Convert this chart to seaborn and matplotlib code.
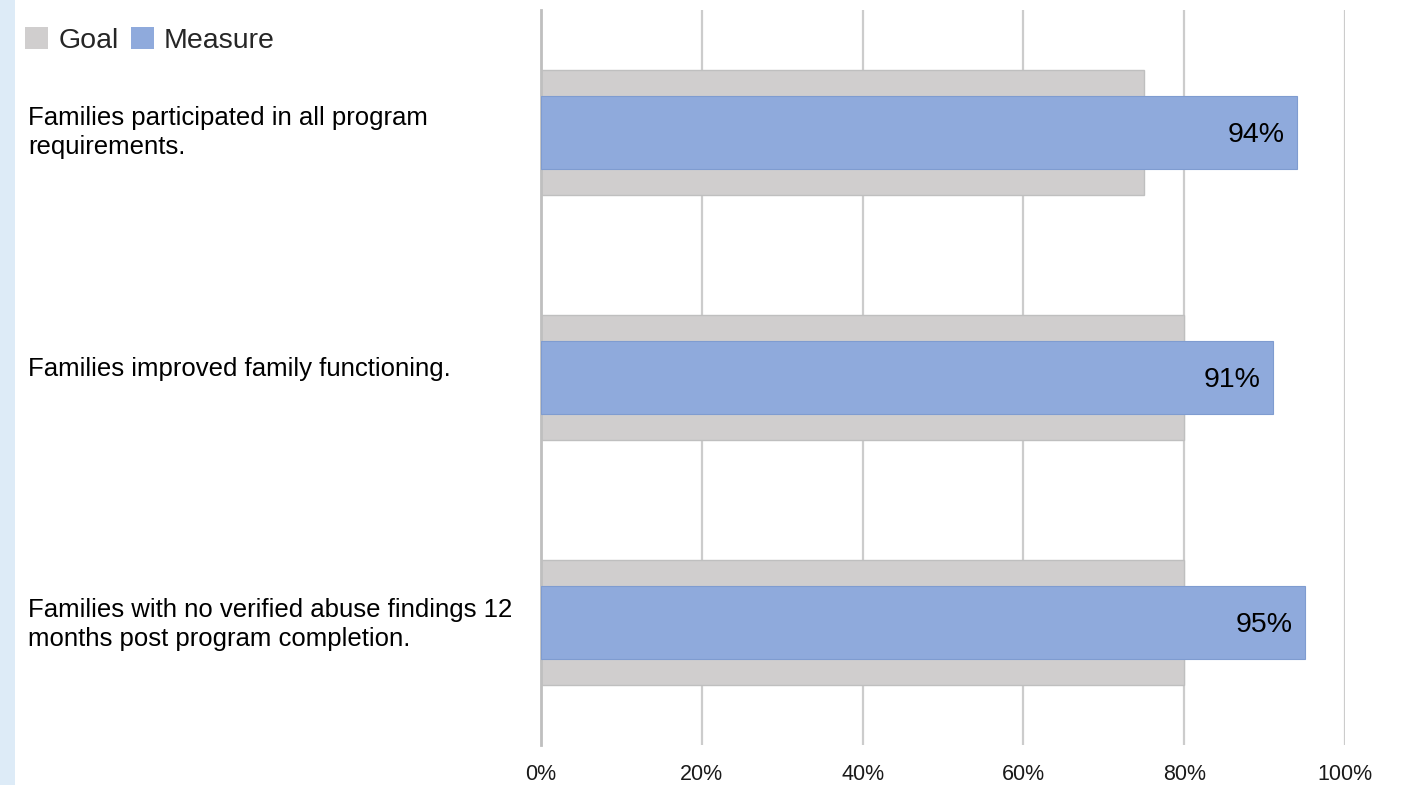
import matplotlib
matplotlib.use("Agg")
import matplotlib.pyplot as plt
from matplotlib.patches import Patch, Rectangle
from matplotlib.ticker import FuncFormatter
import matplotlib.transforms as mtransforms
import seaborn as sns
import pandas as pd

# Performance measures against program goals
categories = [
    "Families participated in all program\nrequirements.",
    "Families improved family functioning.",
    "Families with no verified abuse findings 12\nmonths post program completion.",
]
goal = [75, 80, 80]
measure = [94, 91, 95]
x_ticks = [0, 20, 40, 60, 80, 100]

GOAL_COLOR = "#D0CECE"
MEASURE_COLOR = "#8FAADC"
GRID_COLOR = "#CCCCCC"

sns.set_theme(style="white")
plt.rcParams["font.family"] = ["Liberation Sans", "DejaVu Sans"]

df = pd.DataFrame({"category": categories, "goal": goal, "measure": measure})

fig = plt.figure(figsize=(14.01, 7.85), dpi=100)
fig.patch.set_facecolor("white")
ax = fig.add_axes([541 / 1401, 1 - 745 / 785, (1345 - 541) / 1401, 735 / 785])

# thin accent strip along the left edge
fig.patches.append(Rectangle((0, 0), 15 / 1401, 1, transform=fig.transFigure,
                             facecolor="#DDEBF7", edgecolor="none", zorder=0))

sns.barplot(data=df, x="goal", y="category", orient="h", color=GOAL_COLOR,
            width=0.514, edgecolor="#BFBFBF", linewidth=1.0, saturation=1,
            ax=ax, zorder=2)
sns.barplot(data=df, x="measure", y="category", orient="h", color=MEASURE_COLOR,
            width=0.30, edgecolor="#7F9CD0", linewidth=0.8, saturation=1,
            ax=ax, zorder=3)

ax.set_xlim(0, 100)
ax.set_ylim(2.5, -0.5)
ax.set_xticks(x_ticks)
ax.xaxis.set_major_formatter(FuncFormatter(lambda v, _: f"{v:.0f}%"))
ax.grid(axis="x", color=GRID_COLOR, linewidth=1.6, zorder=0)
ax.set_axisbelow(True)
for side in ["top", "right", "bottom"]:
    ax.spines[side].set_visible(False)
ax.spines["left"].set_color("#BFBFBF")
ax.spines["left"].set_linewidth(2.0)
ax.set_xlabel("")
ax.set_ylabel("")

ax.tick_params(axis="x", length=0, pad=14, labelsize=15.5, labelcolor="#1A1A1A")
ax.tick_params(axis="y", length=0, labelleft=False)

# category labels, left-aligned near the figure edge
label_lift_pt = [0.0, 5.8, -1.4]
base = mtransforms.blended_transform_factory(fig.transFigure, ax.transData)
for i, (name, lift) in enumerate(zip(categories, label_lift_pt)):
    tr = base + mtransforms.ScaledTranslation(0, lift / 72, fig.dpi_scale_trans)
    ax.text(28 / 1401, i, name, transform=tr, ha="left", va="center",
            fontsize=18.5, color="#000000", linespacing=1.27, clip_on=False)

# value labels inside the measure bars
for i, v in enumerate(measure):
    ax.text(v - 1.5, i + 0.012, f"{v}%", ha="right", va="center", fontsize=20.5,
            color="#000000", zorder=5)

handles = [Patch(facecolor=GOAL_COLOR, edgecolor="none", label="Goal"),
           Patch(facecolor=MEASURE_COLOR, edgecolor="none", label="Measure")]
fig.legend(handles=handles, loc="upper left", bbox_to_anchor=(0.006, 0.987),
           ncol=2, frameon=False, fontsize=20.5, handlelength=0.8,
           handleheight=0.8, handletextpad=0.35, columnspacing=0.45,
           borderaxespad=0.2)

fig.savefig("out.png", dpi=100, facecolor="white")
